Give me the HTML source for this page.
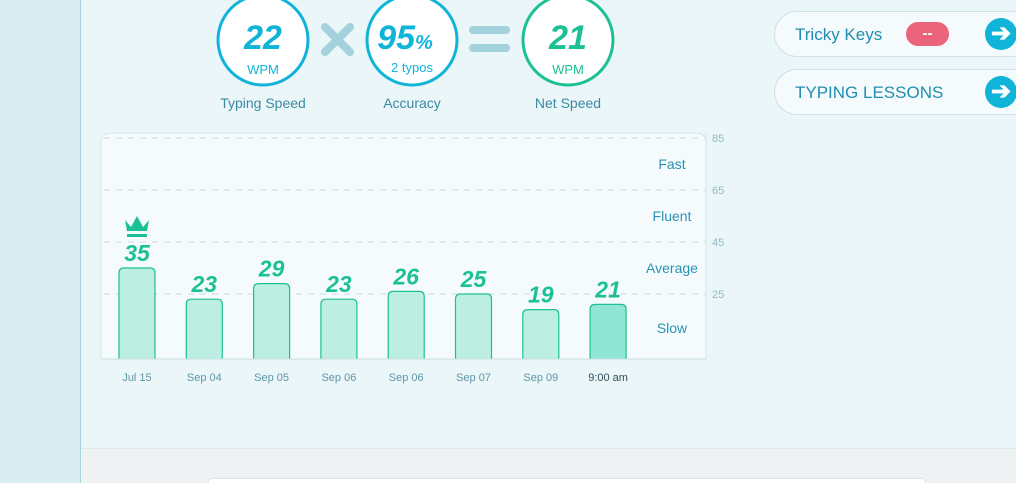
<!DOCTYPE html>
<html style="overflow:hidden"><head><meta charset="utf-8"><style>
html,body{margin:0;width:1016px;height:483px;overflow:hidden}
body{background:#ebf6f8;font-family:"Liberation Sans",sans-serif;position:relative}
.abs{position:absolute}
</style></head><body>
<div class="abs" style="left:0;top:0;width:80px;height:483px;background:#d9edf2;border-right:1.5px solid #a6d3dc"></div>
<div class="abs" style="left:82px;top:448px;width:934px;height:35px;background:#eff2f3;border-top:1px solid #dde8ea"></div>
<div class="abs" style="left:208px;top:478px;width:716px;height:5px;background:#fff;border-radius:4px 4px 0 0;border:1px solid #e0e6e8;border-bottom:none"></div>

<svg class="abs" style="left:0;top:0" width="1016" height="483">
<g>
<circle cx="263" cy="40" r="45" fill="#fff" stroke="#10b4d8" stroke-width="3"/>
<text x="263" y="49" text-anchor="middle" font-size="34" font-weight="bold" font-style="italic" fill="#10b4d8">22</text>
<text x="263" y="74" text-anchor="middle" font-size="13" fill="#10b4d8">WPM</text>
<text x="263" y="108" text-anchor="middle" font-size="14" fill="#3a8aa3">Typing Speed</text></g>
<g stroke="#a3d2dd" stroke-width="8" stroke-linecap="round">
<line x1="325" y1="27" x2="350" y2="52"/><line x1="350" y1="27" x2="325" y2="52"/></g>
<g>
<circle cx="412" cy="40" r="45" fill="#fff" stroke="#10b4d8" stroke-width="3"/>
<text x="405" y="49" text-anchor="middle" font-size="34" font-weight="bold" font-style="italic" fill="#10b4d8">95<tspan font-size="20">%</tspan></text>
<text x="412" y="72" text-anchor="middle" font-size="13" fill="#10b4d8">2 typos</text>
<text x="412" y="108" text-anchor="middle" font-size="14" fill="#3a8aa3">Accuracy</text></g>
<g stroke="#a3d2dd" stroke-width="8" stroke-linecap="round">
<line x1="473" y1="30" x2="506" y2="30"/><line x1="473" y1="48" x2="506" y2="48"/></g>
<g>
<circle cx="568" cy="40" r="45" fill="#fff" stroke="#1cc095" stroke-width="3"/>
<text x="568" y="49" text-anchor="middle" font-size="34" font-weight="bold" font-style="italic" fill="#1cc095">21</text>
<text x="568" y="74" text-anchor="middle" font-size="13" fill="#1cc095">WPM</text>
<text x="568" y="108" text-anchor="middle" font-size="14" fill="#3a8aa3">Net Speed</text></g>
<path d="M101,359 V143 Q101,133 111,133 H696 Q706,133 706,143 V359" fill="#f5fbfc" stroke="#d3e5ea" stroke-width="1"/>
<g id="chart"></g>
</svg>

<div class="abs" style="left:774px;top:11px;width:260px;height:44px;border:1px solid #cfe2e7;border-radius:23px;background:#f5fbfc">
<span class="abs" style="left:20px;top:13px;font-size:17px;color:#1f8eb0">Tricky Keys</span>
<span class="abs" style="left:131px;top:10px;width:43px;height:24px;border-radius:12px;background:#ea647c;color:#fff;font-size:15px;text-align:center;line-height:24px;font-weight:bold">--</span>
<span class="abs" style="left:210px;top:6px;width:32px;height:32px;border-radius:50%;background:#10b4d8;color:#fff;font-size:24px;line-height:31px;text-align:center;font-weight:bold">➔</span></div>
<div class="abs" style="left:774px;top:69px;width:260px;height:44px;border:1px solid #cfe2e7;border-radius:23px;background:#f5fbfc">
<span class="abs" style="left:20px;top:13px;font-size:17px;color:#1f8eb0">TYPING LESSONS</span>
<span class="abs" style="left:210px;top:6px;width:32px;height:32px;border-radius:50%;background:#10b4d8;color:#fff;font-size:24px;line-height:31px;text-align:center;font-weight:bold">➔</span></div>

<script>
const categories=["Jul 15","Sep 04","Sep 05","Sep 06","Sep 06","Sep 07","Sep 09","9:00 am"];
const values=[35,23,29,23,26,25,19,21];
const yTicks=[25,45,65,85];
const bandLabels=["Slow","Average","Fluent","Fast"];
const bandMids=[12,35,55,75];
const NS="http://www.w3.org/2000/svg";
const g=document.getElementById('chart');
const y=v=>359-(v)*2.6;
const x=i=>137+i*67.3;
function mk(t,a){const e=document.createElementNS(NS,t);for(const k in a)e.setAttribute(k,a[k]);g.appendChild(e);return e;}
yTicks.forEach(t=>{
 const l=mk('line',{x1:104,x2:706,y1:y(t),y2:y(t),stroke:'#d6e6eb','stroke-width':1.5,'stroke-dasharray':'6,6'});
 
 
 const tx=mk('text',{x:712,y:y(t)+4,'font-size':11,fill:'#8fb9c6'});tx.textContent=t;
 
 
});
mk('line',{x1:706,x2:706,y1:133,y2:359,stroke:'#d3e5ea'});
bandLabels.forEach((b,i)=>{
 const t=mk('text',{x:672,y:y(bandMids[i])+5,'text-anchor':'middle','font-size':14,fill:'#2a93b3'});t.textContent=b;
 
 
});
const maxV=Math.max(...values);
values.forEach((v,i)=>{
 const last=i===values.length-1;
 const r=mk('path',{d:`M${x(i)-18},359 V${y(v)+5} Q${x(i)-18},${y(v)} ${x(i)-13},${y(v)} H${x(i)+13} Q${x(i)+18},${y(v)} ${x(i)+18},${y(v)+5} V359`,fill:last?'#8ee6d3':'#bcefe2',stroke:'#1cc095','stroke-width':1.2});
 
 
 const t=mk('text',{x:x(i),y:y(v)-7,'text-anchor':'middle','font-size':23,'font-weight':'bold','font-style':'italic',fill:'#1cc095'});t.textContent=v;
 
 
 const c=mk('text',{x:x(i),y:381,'text-anchor':'middle','font-size':11,fill:last?'#2e4f5a':'#5d96a8'});c.textContent=categories[i];
 
 
 if(v===maxV){
  const cx=x(i),cy=y(v)-40;
  const p=mk('path',{d:`M${cx-12},${cy-8} L${cx-6},${cy-1} L${cx},${cy-12} L${cx+6},${cy-1} L${cx+12},${cy-8} L${cx+10},${cy+3} L${cx-10},${cy+3} Z M${cx-10},${cy+6} H${cx+10} V${cy+9} H${cx-10} Z`,fill:'#1cc095'});
  
  
 }
});
mk('line',{x1:101,x2:706,y1:359,y2:359,stroke:'#c8dce2'});
</script>
</body></html>
